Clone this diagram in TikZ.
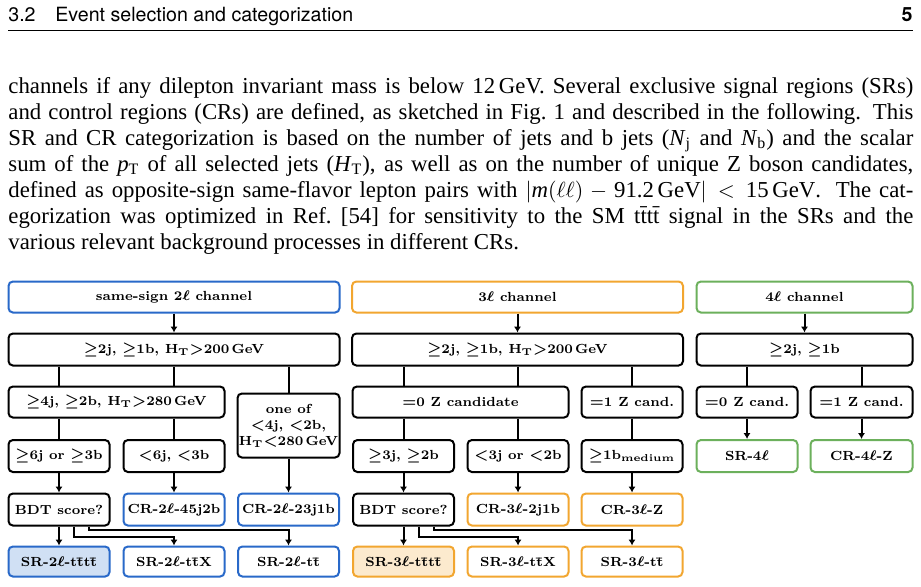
\documentclass[tikz,border=0pt]{standalone}
\usepackage{amsmath}
\usepackage{fontspec}
\newfontfamily\palfontfam{Liberation Serif}
\newfontfamily\helvfontfam{TeX Gyre Heros}
\usetikzlibrary{arrows.meta,calc}
\definecolor{cmsblue}{RGB}{41,105,201}
\definecolor{cmsorange}{RGB}{242,166,48}
\definecolor{cmsgreen}{RGB}{108,176,92}
\definecolor{fillblue}{RGB}{208,224,244}
\definecolor{fillorange}{RGB}{252,234,206}
\newcommand\palfont{\palfontfam\fontsize{11.4}{13}\selectfont}
\newcommand\diagfont{\fontsize{6.6}{8}\selectfont\bfseries\boldmath}
\newcommand\pline[1]{\makebox[452.5pt][s]{#1}}
\newcommand\tbar{\={t}}
\tikzset{
  bx/.style={draw=black, line width=1pt, rounded corners=2.2pt, align=center, inner sep=0pt, font=\diagfont},
  blu/.style={bx, draw=cmsblue},
  org/.style={bx, draw=cmsorange},
  grn/.style={bx, draw=cmsgreen},
  full/.style={minimum width=165.5pt, minimum height=15.5pt},
  mid/.style={minimum width=108pt, minimum height=15.5pt},
  sml/.style={minimum width=50.5pt, minimum height=16pt},
  slo/.style={minimum width=50.5pt, minimum height=15pt},
  ln/.style={line width=1pt},
  arr/.style={line width=1pt, -{Latex[length=3pt,width=3.6pt]}},
  ptxt/.style={anchor=base west, inner sep=0pt, font=\palfont},
  htxt/.style={anchor=base west, inner sep=0pt, font={\helvfontfam\fontsize{9.8}{12}\selectfont}}
}
\begin{document}
\begin{tikzpicture}[x=0.5pt, y=-0.5pt]
\useasboundingbox (0,0) rectangle (921,586);
\fill[white] (0,0) rectangle (921,586);
% header
\node[htxt] (hnum) at (8,21.5) {3.2};
\node[htxt] (htitle) at (55,21.5) {Event selection and categorization};
\node[htxt, anchor=base east, font={\helvfontfam\fontsize{9.8}{12}\selectfont\bfseries}] (hpage) at (913,21.5) {5};
\coordinate (rl) at (8,30.5);
\coordinate (rr) at (913,30.5);
\draw[line width=0.5pt] (rl) -- (rr);
% paragraph
\node[ptxt] (L1) at (8,93) {\pline{channels if any dilepton invariant mass is below 12\,GeV. Several exclusive signal regions (SRs)}};
\node[ptxt] (L2) at (8,119) {\pline{and control regions (CRs) are defined, as sketched in Fig.~1 and described in the following. This}};
\node[ptxt] (L3) at (8,145) {\pline{SR and CR categorization is based on the number of jets and b jets (\textit{N}$_\text{j}$ and \textit{N}$_\text{b}$) and the scalar}};
\node[ptxt] (L4) at (8,171) {\pline{sum of the \textit{p}$_\text{T}$ of all selected jets (\textit{H}$_\text{T}$), as well as on the number of unique Z boson candidates,}};
\node[ptxt] (L5) at (8,197) {\pline{defined as opposite-sign same-flavor lepton pairs with $|\textit{m}(\ell\ell)-\text{91.2}\,\text{GeV}|<\text{15}\,\text{GeV}$. The cat-}};
\node[ptxt] (L6) at (8,223) {\pline{egorization was optimized in Ref.~[54] for sensitivity to the SM t\tbar t\tbar{} signal in the SRs and the}};
\node[ptxt] (L7) at (8,249) {various relevant background processes in different CRs.};
% ---- 2l column
\node[blu, full] (A0) at (174,297) {same-sign 2$\ell$ channel};
\node[bx, full, minimum height=16pt] (A1) at (174,349.5) {$\geq$2j, $\geq$1b, H$_{\mathbf{T}}$$>$200\,GeV};
\node[bx, mid] (A2) at (116.5,402) {$\geq$4j, $\geq$2b, H$_{\mathbf{T}}$$>$280\,GeV};
\node[bx, minimum width=51pt, minimum height=32pt] (A3) at (288.5,425.5) {one of\\$<$4j, $<$2b,\\H$_{\mathbf{T}}$$<$280\,GeV};
\node[bx, sml] (A4) at (59,456) {$\geq$6j or $\geq$3b};
\node[bx, sml] (A5) at (174,456) {$<$6j, $<$3b};
\node[bx, sml] (A6) at (59,509.5) {BDT score?};
\node[blu, sml] (A7) at (174,509.5) {CR-2$\ell$-45j2b};
\node[blu, sml] (A8) at (288.5,509.5) {CR-2$\ell$-23j1b};
\node[blu, slo, fill=fillblue] (A9) at (59,561.5) {SR-2$\ell$-t\tbar t\tbar};
\node[blu, slo] (A10) at (174,561.5) {SR-2$\ell$-t\tbar X};
\node[blu, slo] (A11) at (288.5,561.5) {SR-2$\ell$-t\tbar};
\draw[arr] (A0.south) -- (A1.north);
\draw[ln] (A1.south -| A4) -- (A2.north -| A4);
\draw[ln] (A1.south -| A5) -- (A2.north -| A5);
\draw[ln] (A1.south -| A3) -- (A3.north);
\draw[ln] (A2.south -| A4) -- (A4.north);
\draw[ln] (A2.south -| A5) -- (A5.north);
\draw[arr] (A4.south) -- (A6.north);
\draw[arr] (A5.south) -- (A7.north);
\draw[arr] (A3.south) -- (A8.north);
\draw[arr] (A6.south) -- (A9.north);
\draw[arr] ($(A6.south)+(15,0)$) -- ++(0,10) -| (A10.north);
\draw[arr] ($(A6.south)+(30,0)$) -- ++(0,3) -| (A11.north);
% ---- 3l column
\node[org, full] (B0) at (517.5,297) {3$\ell$ channel};
\node[bx, full, minimum height=16pt] (B1) at (517.5,349.5) {$\geq$2j, $\geq$1b, H$_{\mathbf{T}}$$>$200\,GeV};
\node[bx, mid] (B2) at (460.5,402) {$=$0 Z candidate};
\node[bx, minimum width=50.5pt, minimum height=15.5pt] (B3) at (632,402) {$=$1 Z cand.};
\node[bx, sml] (B4) at (403.5,456) {$\geq$3j, $\geq$2b};
\node[bx, sml] (B5) at (518,456) {$<$3j or $<$2b};
\node[bx, sml] (B6) at (632,456) {$\geq$1b$_{\mathbf{medium}}$};
\node[bx, sml] (B7) at (403.5,509.5) {BDT score?};
\node[org, sml] (B8) at (518,509.5) {CR-3$\ell$-2j1b};
\node[org, sml] (B9) at (632,509.5) {CR-3$\ell$-Z};
\node[org, slo, fill=fillorange] (B10) at (403.5,561.5) {SR-3$\ell$-t\tbar t\tbar};
\node[org, slo] (B11) at (518,561.5) {SR-3$\ell$-t\tbar X};
\node[org, slo] (B12) at (632,561.5) {SR-3$\ell$-t\tbar};
\draw[arr] (B0.south) -- (B1.north);
\draw[ln] (B1.south -| B4) -- (B2.north -| B4);
\draw[ln] (B1.south -| B5) -- (B2.north -| B5);
\draw[ln] (B1.south -| B3) -- (B3.north);
\draw[ln] (B2.south -| B4) -- (B4.north);
\draw[ln] (B2.south -| B5) -- (B5.north);
\draw[ln] (B3.south) -- (B6.north);
\draw[arr] (B4.south) -- (B7.north);
\draw[arr] (B5.south) -- (B8.north);
\draw[arr] (B6.south) -- (B9.north);
\draw[arr] (B7.south) -- (B10.north);
\draw[arr] ($(B7.south)+(15,0)$) -- ++(0,10) -| (B11.north);
\draw[arr] ($(B7.south)+(30,0)$) -- ++(0,3) -| (B12.north);
% ---- 4l column
\node[grn, mid] (C0) at (804.5,297) {4$\ell$ channel};
\node[bx, mid, minimum height=16pt] (C1) at (804.5,349.5) {$\geq$2j, $\geq$1b};
\node[bx, minimum width=50.5pt, minimum height=15.5pt] (C2) at (747,402) {$=$0 Z cand.};
\node[bx, minimum width=51pt, minimum height=15.5pt] (C3) at (861.5,402) {$=$1 Z cand.};
\node[grn, minimum width=50.5pt, minimum height=16pt] (C4) at (747,456) {SR-4$\ell$};
\node[grn, minimum width=51pt, minimum height=16pt] (C5) at (861.5,456) {CR-4$\ell$-Z};
\draw[arr] (C0.south) -- (C1.north);
\draw[ln] (C1.south -| C2) -- (C2.north);
\draw[ln] (C1.south -| C3) -- (C3.north);
\draw[arr] (C2.south) -- (C4.north);
\draw[arr] (C3.south) -- (C5.north);
\end{tikzpicture}
\end{document}
